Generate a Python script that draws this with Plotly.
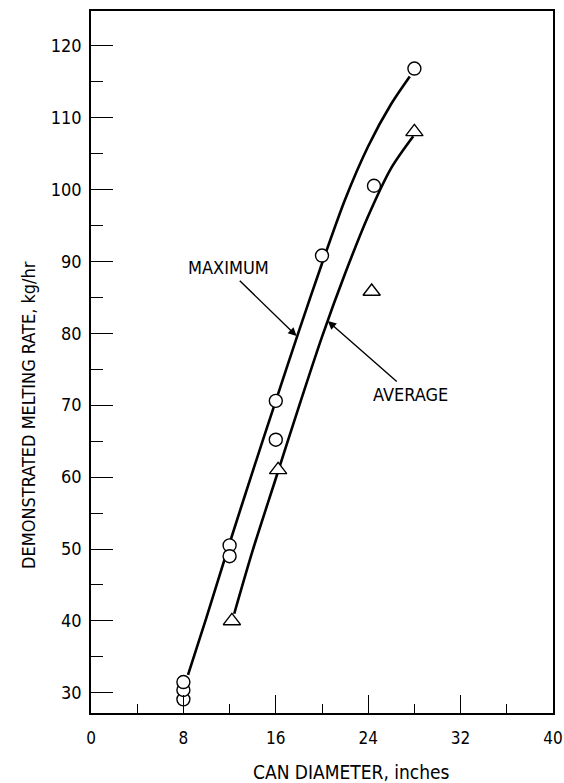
import plotly.graph_objects as go

# Data
max_x = [8, 8, 8, 12, 12, 16, 16, 20, 24.5, 28]
max_y = [29.1, 30.4, 31.5, 50.5, 49.0, 70.6, 65.2, 90.8, 100.5, 116.8]

avg_x = [12.2, 16.2, 24.3, 28]
avg_y = [40.0, 61.0, 85.8, 108.0]

max_curve_x = [8.4, 10, 12, 14, 16, 18, 20, 22, 24, 26, 27.6]
max_curve_y = [32.5, 40.5, 50.8, 60.8, 70.6, 80.3, 89.7, 98.6, 106.0, 111.9, 115.7]

avg_curve_x = [12.4, 14, 16, 18, 20, 22, 24, 26, 27.9]
avg_curve_y = [41.0, 49.8, 59.8, 69.8, 79.5, 88.3, 96.3, 103.0, 107.4]

x_ticks = [0, 8, 16, 24, 32, 40]
y_ticks = [30, 40, 50, 60, 70, 80, 90, 100, 110, 120]

FONT = "Liberation Sans Narrow, Arial Narrow, DejaVu Sans Condensed, sans-serif"

W, H = 564, 783
ML, MR, MT, MB = 91, 11, 11, 70
pw, ph = W - ML - MR, H - MT - MB

fig = go.Figure()
fig.add_trace(go.Scatter(x=max_curve_x, y=max_curve_y, mode="lines",
                         line=dict(color="black", width=2.6, shape="spline", smoothing=0.8),
                         showlegend=False, hoverinfo="skip"))
fig.add_trace(go.Scatter(x=avg_curve_x, y=avg_curve_y, mode="lines",
                         line=dict(color="black", width=2.6, shape="spline", smoothing=0.8),
                         showlegend=False, hoverinfo="skip"))
fig.add_trace(go.Scatter(x=max_x, y=max_y, mode="markers",
                         marker=dict(symbol="circle", size=13, color="white",
                                     line=dict(color="black", width=1.4)),
                         showlegend=False))
fig.add_trace(go.Scatter(x=avg_x, y=avg_y, mode="markers",
                         marker=dict(symbol="triangle-up", size=15, color="white",
                                     line=dict(color="black", width=1.4)),
                         showlegend=False))

# Arrows
fig.add_annotation(x=17.8, y=79.6, ax=12.75, ay=87.5, xref="x", yref="y",
                   axref="x", ayref="y", text="", showarrow=True,
                   arrowhead=2, arrowsize=1.2, arrowwidth=1.4, arrowcolor="black")
fig.add_annotation(x=20.5, y=81.7, ax=26.6, ay=73.1, xref="x", yref="y",
                   axref="x", ayref="y", text="", showarrow=True,
                   arrowhead=2, arrowsize=1.2, arrowwidth=1.4, arrowcolor="black")
fig.add_annotation(x=11.9, y=89.2, text="MAXIMUM", showarrow=False,
                   font=dict(family=FONT, size=18, color="black"))
fig.add_annotation(x=27.7, y=71.5, text="AVERAGE", showarrow=False,
                   font=dict(family=FONT, size=18, color="black"))

# Axis titles
fig.add_annotation(x=(351 - ML) / pw, y=(H - MB - 772) / ph, xref="paper", yref="paper",
                   xanchor="center", yanchor="middle",
                   text="CAN DIAMETER, inches", showarrow=False,
                   font=dict(family=FONT, size=19, color="black"))
fig.add_annotation(x=(28 - ML) / pw, y=(H - MB - 415) / ph, xref="paper", yref="paper",
                   xanchor="center", yanchor="middle",
                   text="DEMONSTRATED MELTING RATE, kg/hr", textangle=-90, showarrow=False,
                   font=dict(family=FONT, size=18, color="black"))

fig.update_layout(
    width=W, height=H,
    margin=dict(l=ML, r=MR, t=MT, b=MB, autoexpand=False),
    paper_bgcolor="white", plot_bgcolor="white",
    font=dict(family=FONT, size=19, color="black"),
)

fig.update_xaxes(range=[0, 40], tickvals=x_ticks, ticktext=[str(v) for v in x_ticks],
                 ticks="inside", ticklen=18, tickwidth=1.4, tickcolor="black",
                 minor=dict(ticks="inside", ticklen=9, tickwidth=1.2, tickcolor="black",
                            tickvals=[4, 12, 20, 28, 36]),
                 showline=True, linecolor="black", linewidth=1.6, mirror=True,
                 showgrid=False, zeroline=False, ticklabelstandoff=9, automargin=False,
                 ticklabeloverflow="allow",
                 tickfont=dict(family=FONT, size=17, color="black"))
fig.update_yaxes(range=[27.2, 124.8], tickvals=y_ticks, ticktext=[str(v) for v in y_ticks],
                 ticks="inside", ticklen=22, tickwidth=1.4, tickcolor="black",
                 minor=dict(ticks="inside", ticklen=12, tickwidth=1.2, tickcolor="black",
                            tickvals=[35, 45, 55, 65, 75, 85, 95, 105, 115]),
                 showline=True, linecolor="black", linewidth=1.6, mirror=True,
                 showgrid=False, zeroline=False, ticklabelstandoff=4, automargin=False,
                 ticklabeloverflow="allow",
                 tickfont=dict(family=FONT, size=18, color="black"))

fig.write_html("out.html")
